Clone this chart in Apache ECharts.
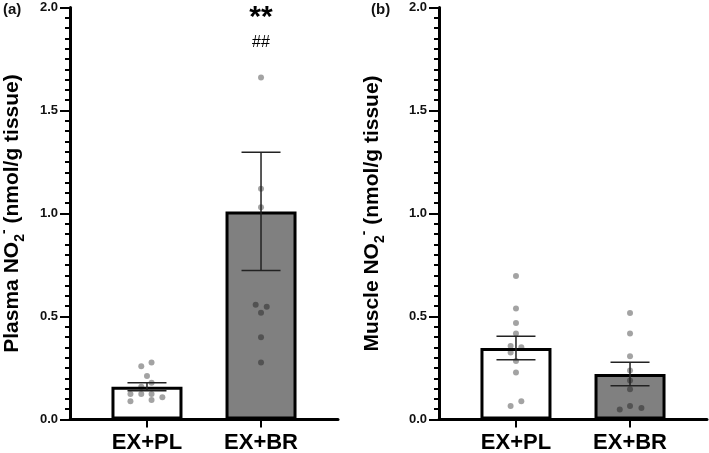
<!DOCTYPE html>
<html>
<head>
<meta charset="utf-8">
<script src="https://cdn.jsdelivr.net/npm/echarts@6/dist/echarts.min.js"></script>
<style>
  html, body { margin: 0; padding: 0; background: #fff; }
  #chart { width: 709px; height: 453px; }
</style>
</head>
<body>
<div id="chart"></div>
<script>
  // groups on the x axis
  const groups = ['EX+PL', 'EX+BR'];

  // (a) plasma
  const plasmaMean = [0.159, 1.01];
  const plasmaSem = [0.019, 0.287];
  const plasmaPL = [0.277, 0.259, 0.211, 0.178, 0.159, 0.124, 0.124, 0.124, 0.108, 0.095, 0.088];
  const plasmaPLOffset = [0.04, -0.05, 0, 0.04, -0.05, -0.145, -0.05, 0.04, 0.135, 0.04, -0.145];
  const plasmaBR = [1.66, 1.12, 1.03, 0.557, 0.547, 0.518, 0.399, 0.277];
  const plasmaBROffset = [0, 0, 0, -0.047, 0.05, 0, 0, 0];

  // (b) muscle
  const muscleMean = [0.347, 0.221];
  const muscleSem = [0.057, 0.057];
  const musclePL = [0.697, 0.539, 0.469, 0.417, 0.357, 0.351, 0.325, 0.284, 0.228, 0.089, 0.066];
  const musclePLOffset = [0, 0, 0, 0, -0.047, 0.047, -0.047, 0, 0, 0.047, -0.047];
  const muscleBR = [0.517, 0.417, 0.307, 0.238, 0.189, 0.147, 0.066, 0.049, 0.056];
  const muscleBROffset = [0, 0, 0, 0, 0, 0, 0, -0.09, 0.1];

  const yTicks = ['0.0', '0.5', '1.0', '1.5', '2.0'];
  const barColors = ['#ffffff', '#808080'];

  const chart = echarts.init(document.getElementById('chart'));
  const font = 'Liberation Sans, Arial, sans-serif';

  function dots(vals, offs, g) {
    return vals.map((v, i) => [g + offs[i], v]);
  }

  function xAxis(idx) {
    return {
      type: 'value', gridIndex: idx, min: 0.325, max: 2.675,
      axisLine: { show: true, lineStyle: { color: '#000', width: 3 } },
      axisTick: { show: true, customValues: [1, 2], length: 8, lineStyle: { color: '#000', width: 2 } },
      axisLabel: {
        customValues: [1, 2], margin: 12,
        formatter: v => groups[Math.round(v) - 1],
        color: '#000', fontSize: 22, fontWeight: 'bold', fontFamily: font
      },
      splitLine: { show: false }
    };
  }

  function yAxis(idx, title, gap) {
    const base = { fontWeight: 'bold', color: '#000', fontFamily: font, lineHeight: 30 };
    return {
      type: 'value', gridIndex: idx, min: 0, max: 2, interval: 0.5,
      name: '{a|' + title + ' NO}{sub|2}{sup|-}{a| (nmol/g tissue)}',
      nameLocation: 'middle', nameGap: gap, nameRotate: 90,
      nameTextStyle: {
        rich: {
          a: Object.assign({ fontSize: 21 }, base),
          sub: Object.assign({ fontSize: 14, verticalAlign: 'bottom' }, base),
          sup: Object.assign({ fontSize: 14, verticalAlign: 'top' }, base)
        }
      },
      axisLine: { show: true, lineStyle: { color: '#000', width: 3 } },
      axisTick: { show: true, length: 10, lineStyle: { color: '#000', width: 2 } },
      minorTick: { show: true, splitNumber: 10, length: 5, lineStyle: { color: '#000', width: 2 } },
      axisLabel: {
        margin: 12, color: '#111', fontSize: 13, fontWeight: 'bold', fontFamily: font,
        formatter: v => yTicks[Math.round(v / 0.5)]
      },
      splitLine: { show: false }
    };
  }

  function errRender(params, api) {
    const x = api.value(0), m = api.value(1), s = api.value(2);
    const top = api.coord([x, m + s]);
    const bot = api.coord([x, m - s]);
    const hw = 19.5;
    const st = { stroke: '#222', lineWidth: 1.5 };
    return {
      type: 'group',
      children: [
        { type: 'line', shape: { x1: top[0], y1: top[1], x2: bot[0], y2: bot[1] }, style: st },
        { type: 'line', shape: { x1: top[0] - hw, y1: top[1], x2: top[0] + hw, y2: top[1] }, style: st },
        { type: 'line', shape: { x1: bot[0] - hw, y1: bot[1], x2: bot[0] + hw, y2: bot[1] }, style: st }
      ]
    };
  }

  function panelSeries(idx, mean, sem, pl, plOff, br, brOff) {
    return [
      {
        type: 'bar', xAxisIndex: idx, yAxisIndex: idx, barWidth: 71,
        data: mean.map((m, i) => ({
          value: [i + 1, m],
          itemStyle: { color: barColors[i], borderColor: '#000', borderWidth: 3 }
        })),
        silent: true
      },
      {
        type: 'scatter', xAxisIndex: idx, yAxisIndex: idx, symbolSize: 6,
        itemStyle: { color: 'rgba(0,0,0,0.45)' },
        data: dots(pl, plOff, 1).concat(dots(br, brOff, 2)),
        silent: true
      },
      {
        type: 'custom', xAxisIndex: idx, yAxisIndex: idx, renderItem: errRender,
        data: mean.map((m, i) => [i + 1, m, sem[i]]), z: 5, silent: true
      }
    ];
  }

  // significance marks above EX+BR in panel (a)
  const sigText = ['**', '##'];
  const sigY = [1.95, 1.83];

  const option = {
    animation: false,
    grid: [
      { left: 70, width: 268, top: 7.5, bottom: 33.5, outerBoundsMode: 'none' },
      { left: 439, width: 268, top: 7.5, bottom: 33.5, outerBoundsMode: 'none' }
    ],
    xAxis: [xAxis(0), xAxis(1)],
    yAxis: [yAxis(0, 'Plasma', 43), yAxis(1, 'Muscle', 52)],
    graphic: [
      { type: 'text', left: 3, top: 2, style: { text: '(a)', font: 'bold 15px ' + font, fill: '#111' } },
      { type: 'text', left: 371, top: 2, style: { text: '(b)', font: 'bold 15px ' + font, fill: '#111' } }
    ],
    series: panelSeries(0, plasmaMean, plasmaSem, plasmaPL, plasmaPLOffset, plasmaBR, plasmaBROffset)
      .concat(panelSeries(1, muscleMean, muscleSem, musclePL, musclePLOffset, muscleBR, muscleBROffset))
      .concat([{
        type: 'custom', xAxisIndex: 0, yAxisIndex: 0, silent: true,
        data: sigText.map((t, i) => [2, sigY[i], i]),
        renderItem: function (params, api) {
          const p = api.coord([api.value(0), api.value(1)]);
          const i = api.value(2);
          return {
            type: 'text', x: p[0], y: p[1],
            style: {
              text: sigText[i], align: 'center', verticalAlign: 'middle',
              font: i === 0 ? 'bold 30px ' + font : '16px ' + font, fill: '#000'
            }
          };
        }
      }])
  };
  chart.setOption(option);
</script>
</body>
</html>
